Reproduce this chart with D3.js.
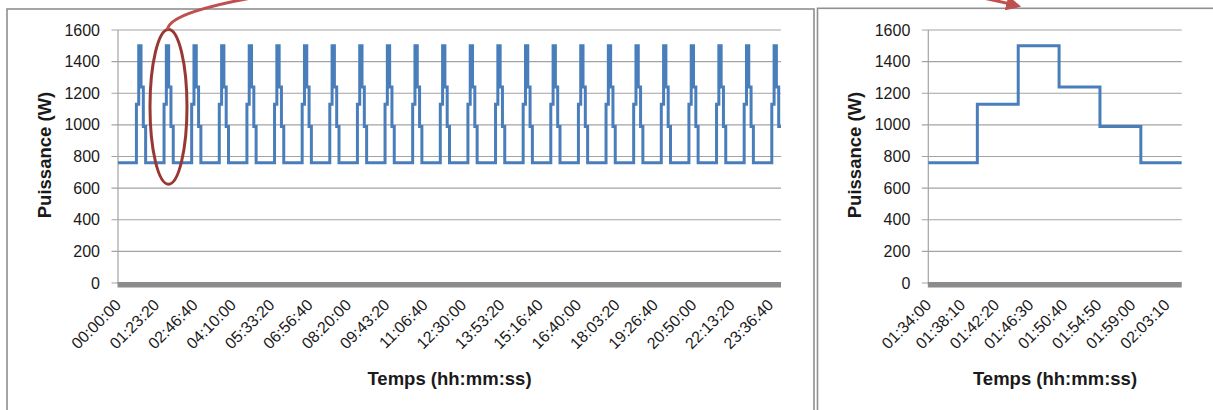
<!DOCTYPE html>
<html>
<head>
<meta charset="utf-8">
<script src="https://cdn.jsdelivr.net/npm/d3@7"></script>
<style>
  html, body { margin: 0; padding: 0; background: #ffffff; }
  svg { display: block; }
  text { font-family: "Liberation Sans", Arial, sans-serif; fill: #1a1a1a; }
</style>
</head>
<body>
<svg id="chart" width="1213" height="410"></svg>
<script>
// ---------------- DATA ----------------
// y axis
const yTicks = [0, 200, 400, 600, 800, 1000, 1200, 1400, 1600];
// left chart: 24 hourly cycles (hour at which each cycle starts)
const cycleHours = [0, 1, 2, 3, 4, 5, 6, 7, 8, 9, 10, 11, 12, 13, 14, 15, 16, 17, 18, 19, 20, 21, 22, 23];
// within-hour step profile (minutes after the hour) and power levels (W)
const cycleStepMinutes = [0, 40, 45, 50, 55];
const cycleStepLevels = [760, 1130, 1500, 1240, 990];
// left x tick labels
const leftTickLabels = ["00:00:00", "01:23:20", "02:46:40", "04:10:00", "05:33:20", "06:56:40",
  "08:20:00", "09:43:20", "11:06:40", "12:30:00", "13:53:20", "15:16:40", "16:40:00",
  "18:03:20", "19:26:40", "20:50:00", "22:13:20", "23:36:40"];
const leftDomain = ["00:00:00", "24:00:00"];
// right (zoomed) chart
const zoomTimes = ["01:34:00", "01:40:00", "01:45:00", "01:50:00", "01:55:00", "02:00:00", "02:05:00"];
const zoomValues = [760, 1130, 1500, 1240, 990, 760, 760];
const rightTickLabels = ["01:34:00", "01:38:10", "01:42:20", "01:46:30", "01:50:40", "01:54:50", "01:59:00", "02:03:10"];
const rightDomain = ["01:34:00", "02:05:00"];
// annotation (ellipse around the 2nd cycle)
const ellipseCenter = ["01:49:40", 1115];
const ellipseHalfWidthSec = 2410;
const ellipseValueRange = [625, 1603];

const yTitle = "Puissance (W)";
const xTitle = "Temps (hh:mm:ss)";

// ---------------- HELPERS ----------------
const toSec = s => { const p = s.split(":").map(Number); return p[0] * 3600 + p[1] * 60 + p[2]; };

const leftSeries = [];
cycleHours.forEach(h => {
  cycleStepMinutes.forEach((m, i) => leftSeries.push([h * 3600 + m * 60, cycleStepLevels[i]]));
});
leftSeries.push([toSec(leftDomain[1]), cycleStepLevels[cycleStepLevels.length - 1]]);
const rightSeries = zoomTimes.map((t, i) => [toSec(t), zoomValues[i]]);

const svg = d3.select("#chart");
const LINE = "#4a7ebb", GRID = "#a3a3a3", FRAME = "#8f8f8f";

// frames
svg.append("rect").attr("x", 7).attr("y", 9).attr("width", 807).attr("height", 430)
  .attr("fill", "none").attr("stroke", FRAME).attr("stroke-width", 1.6);
svg.append("rect").attr("x", 817.5).attr("y", 8.3).attr("width", 420).attr("height", 430)
  .attr("fill", "none").attr("stroke", FRAME).attr("stroke-width", 1.6);

const yTop = 30, yBot = 283;

function drawPanel(x0, x1, domain, series, tickLabels) {
  const x = d3.scaleLinear().domain(domain.map(toSec)).range([x0, x1]);
  const y = d3.scaleLinear().domain([0, 1600]).range([yBot, yTop]);
  const g = svg.append("g");

  // gridlines + tick marks
  g.selectAll("line.grid").data(yTicks).join("line")
    .attr("x1", x0 - 6.5).attr("x2", x1)
    .attr("y1", d => y(d)).attr("y2", d => y(d))
    .attr("stroke", GRID).attr("stroke-width", 1.2);
  // y axis line
  g.append("line").attr("x1", x0).attr("x2", x0).attr("y1", y(1600)).attr("y2", y(0))
    .attr("stroke", GRID).attr("stroke-width", 1.2);
  // floor band
  g.append("rect").attr("x", x0 - 0.5).attr("y", y(0) - 1).attr("width", x1 - x0 + 0.5).attr("height", 5.5)
    .attr("fill", "#8c8c8c");

  // y tick labels
  g.selectAll("text.yt").data(yTicks).join("text")
    .attr("x", x0 - 18).attr("y", d => y(d)).attr("dy", "0.35em")
    .attr("text-anchor", "end").attr("font-size", 16).text(d => d);

  // x tick labels
  g.selectAll("text.xt").data(tickLabels).join("text")
    .attr("transform", d => `translate(${x(toSec(d))},${y(0) + 19}) rotate(-45)`)
    .attr("dy", "0.35em").attr("text-anchor", "end").attr("font-size", 16).text(d => d);

  // line
  const line = d3.line().x(d => x(d[0])).y(d => y(d[1])).curve(d3.curveStepAfter);
  g.append("path").datum(series).attr("d", line)
    .attr("fill", "none").attr("stroke", LINE).attr("stroke-width", 3).attr("stroke-linejoin", "miter");

  // titles
  g.append("text").attr("transform", `translate(${x0 - 67},155) rotate(-90)`)
    .attr("text-anchor", "middle").attr("font-size", 18.5).attr("font-weight", "bold").text(yTitle);
  g.append("text").attr("x", (x0 + x1) / 2).attr("y", 385)
    .attr("text-anchor", "middle").attr("font-size", 18.5).attr("font-weight", "bold").text(xTitle);

  return { x, y };
}

const L = drawPanel(118, 781, leftDomain, leftSeries, leftTickLabels);
const R = drawPanel(928.3, 1181.7, rightDomain, rightSeries, rightTickLabels);

// ---------------- ANNOTATION ----------------
const cx = L.x(toSec(ellipseCenter[0]));
const rx = L.x(toSec(ellipseCenter[0]) + ellipseHalfWidthSec) - cx;
const cyTop = L.y(ellipseValueRange[1]), cyBot = L.y(ellipseValueRange[0]);
svg.append("ellipse").attr("cx", cx).attr("cy", (cyTop + cyBot) / 2)
  .attr("rx", rx).attr("ry", (cyBot - cyTop) / 2)
  .attr("fill", "none").attr("stroke", "#983835").attr("stroke-width", 3);

const defs = svg.append("defs");
defs.append("marker").attr("id", "arrow").attr("viewBox", "0 -5 10 10")
  .attr("refX", 8).attr("refY", 0).attr("markerWidth", 5).attr("markerHeight", 5)
  .attr("orient", "auto").attr("markerUnits", "strokeWidth")
  .append("path").attr("d", "M0,-5L10,0L0,5Z").attr("fill", "#c0504d");

const endX = R.x(toSec("01:45:00")), endY = 6;
const p = d3.path();
p.moveTo(cx - 1, cyTop);
p.bezierCurveTo(cx + 4, cyTop - 50, 760, -60, endX, endY);
svg.append("path").attr("d", p.toString()).attr("fill", "none")
  .attr("stroke", "#c0504d").attr("stroke-width", 3).attr("marker-end", "url(#arrow)");
</script>
</body>
</html>
